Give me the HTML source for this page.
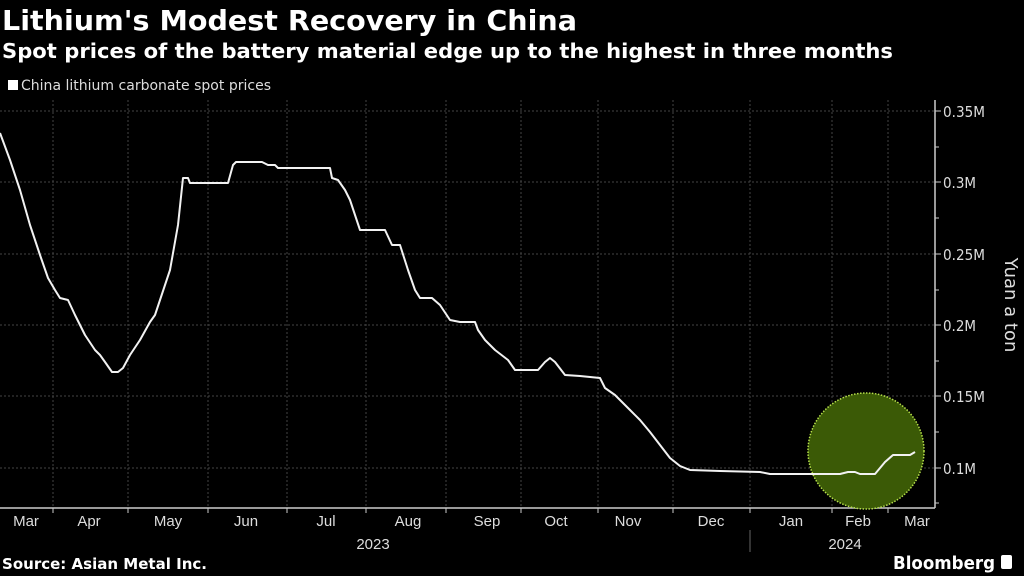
<!DOCTYPE html>
<html><head><meta charset="utf-8"><style>
body{margin:0;background:#000;width:1024px;height:576px;overflow:hidden;font-family:"Liberation Sans",sans-serif;color:#fff}
</style></head><body>
<svg width="1024" height="576" xmlns="http://www.w3.org/2000/svg" style="position:absolute;left:0;top:0">
<text x="2" y="30" font-size="28" font-weight="bold" fill="#fff" font-family="DejaVu Sans" textLength="575" lengthAdjust="spacingAndGlyphs">Lithium's Modest Recovery in China</text>
<text x="2" y="58" font-size="20" font-weight="bold" fill="#fff" font-family="DejaVu Sans" textLength="891" lengthAdjust="spacingAndGlyphs">Spot prices of the battery material edge up to the highest in three months</text>
<rect x="8" y="80" width="10" height="10" fill="#fff"/>
<text x="21" y="90" font-size="14" fill="#ddd" font-family="DejaVu Sans" textLength="250" lengthAdjust="spacingAndGlyphs">China lithium carbonate spot prices</text>
<g stroke="#444" stroke-dasharray="2,2" stroke-width="1">
<line x1="0" y1="111" x2="935" y2="111"/><line x1="0" y1="182" x2="935" y2="182"/><line x1="0" y1="254" x2="935" y2="254"/><line x1="0" y1="325" x2="935" y2="325"/><line x1="0" y1="396" x2="935" y2="396"/><line x1="0" y1="468" x2="935" y2="468"/>
<line x1="53" y1="100" x2="53" y2="508"/><line x1="128" y1="100" x2="128" y2="508"/><line x1="208" y1="100" x2="208" y2="508"/><line x1="287" y1="100" x2="287" y2="508"/><line x1="366" y1="100" x2="366" y2="508"/><line x1="446" y1="100" x2="446" y2="508"/><line x1="521" y1="100" x2="521" y2="508"/><line x1="598" y1="100" x2="598" y2="508"/><line x1="673" y1="100" x2="673" y2="508"/><line x1="750" y1="100" x2="750" y2="508"/><line x1="832" y1="100" x2="832" y2="508"/><line x1="888" y1="100" x2="888" y2="508"/>
</g>
<line x1="0" y1="508" x2="935" y2="508" stroke="#ccc" stroke-width="1.5"/>
<line x1="935" y1="100" x2="935" y2="508" stroke="#ccc" stroke-width="1.5"/>
<g stroke="#ccc" stroke-width="1">
<line x1="935" y1="111" x2="941" y2="111"/><line x1="935" y1="182" x2="941" y2="182"/><line x1="935" y1="254" x2="941" y2="254"/><line x1="935" y1="325" x2="941" y2="325"/><line x1="935" y1="396" x2="941" y2="396"/><line x1="935" y1="468" x2="941" y2="468"/>
<line x1="935" y1="147" x2="939" y2="147"/><line x1="935" y1="218" x2="939" y2="218"/><line x1="935" y1="290" x2="939" y2="290"/><line x1="935" y1="361" x2="939" y2="361"/><line x1="935" y1="432" x2="939" y2="432"/><line x1="935" y1="503" x2="939" y2="503"/>
<line x1="53" y1="508" x2="53" y2="513"/><line x1="128" y1="508" x2="128" y2="513"/><line x1="208" y1="508" x2="208" y2="513"/><line x1="287" y1="508" x2="287" y2="513"/><line x1="366" y1="508" x2="366" y2="513"/><line x1="446" y1="508" x2="446" y2="513"/><line x1="521" y1="508" x2="521" y2="513"/><line x1="598" y1="508" x2="598" y2="513"/><line x1="673" y1="508" x2="673" y2="513"/><line x1="750" y1="508" x2="750" y2="513"/><line x1="832" y1="508" x2="832" y2="513"/><line x1="888" y1="508" x2="888" y2="513"/>
<line x1="750" y1="530" x2="750" y2="552" stroke="#666"/>
</g>
<g font-size="15" fill="#ddd" font-family="DejaVu Sans">
<text x="943" y="117" textLength="42" lengthAdjust="spacingAndGlyphs">0.35M</text><text x="943" y="188" textLength="33" lengthAdjust="spacingAndGlyphs">0.3M</text><text x="943" y="260" textLength="42" lengthAdjust="spacingAndGlyphs">0.25M</text><text x="943" y="331" textLength="33" lengthAdjust="spacingAndGlyphs">0.2M</text><text x="943" y="402" textLength="42" lengthAdjust="spacingAndGlyphs">0.15M</text><text x="943" y="474" textLength="33" lengthAdjust="spacingAndGlyphs">0.1M</text>
</g>
<text transform="translate(1005,305) rotate(90)" text-anchor="middle" font-size="18" fill="#ddd" font-family="DejaVu Sans">Yuan a ton</text>
<g font-size="15" fill="#ddd" text-anchor="middle" font-family="Liberation Sans">
<text x="26" y="526">Mar</text><text x="89" y="526">Apr</text><text x="168" y="526">May</text><text x="246" y="526">Jun</text><text x="326" y="526">Jul</text><text x="408" y="526">Aug</text><text x="487" y="526">Sep</text><text x="556" y="526">Oct</text><text x="628" y="526">Nov</text><text x="711" y="526">Dec</text><text x="791" y="526">Jan</text><text x="858" y="526">Feb</text><text x="917" y="526">Mar</text>
<text x="373" y="549">2023</text><text x="845" y="549">2024</text>
</g>
<circle cx="866" cy="451" r="58" fill="#3b5a06" stroke="#b6e04a" stroke-width="1.5" stroke-dasharray="1.5,1.5"/>
<polyline fill="none" stroke="#f2f2f2" stroke-width="2" stroke-linejoin="round" points="0,133 10,160 20,190 30,225 40,255 48,278 55,290 60,298 68,300 75,315 85,335 95,350 100,355 105,362 112,372 118,372 123,368 130,355 140,340 150,322 155,315 160,300 170,270 178,225 183,178 188,178 190,183 228,183 233,165 236,162 262,162 268,165 275,165 278,168 330,168 332,178 338,180 345,190 350,200 355,215 360,230 366,230 385,230 392,245 400,245 408,270 415,290 420,298 432,298 440,305 450,320 460,322 475,322 478,330 485,340 495,350 508,360 515,370 538,370 545,362 550,358 555,362 565,375 580,376 600,378 605,388 615,395 630,410 640,420 650,432 660,445 670,458 680,466 690,470 720,471 760,472 770,474 840,474 848,472 855,472 860,474 875,474 885,462 893,455 910,455 915,452"/>
<text x="2" y="569" font-size="15" font-weight="bold" fill="#fff" font-family="DejaVu Sans" textLength="205" lengthAdjust="spacingAndGlyphs">Source: Asian Metal Inc.</text>
<text x="995" y="569" text-anchor="end" font-size="18" font-weight="bold" fill="#fff" font-family="DejaVu Sans" textLength="102" lengthAdjust="spacingAndGlyphs">Bloomberg</text>
<rect x="1001" y="555" width="11" height="14" rx="2" fill="#fff"/>
</svg>
</body></html>
